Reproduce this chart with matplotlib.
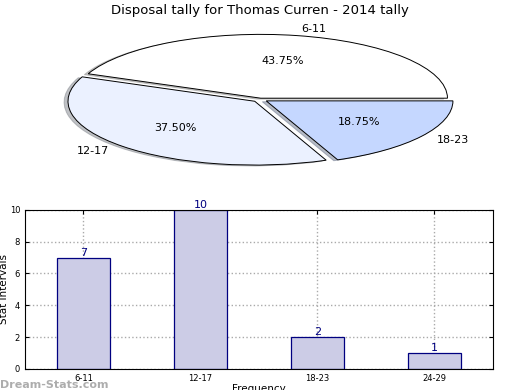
import matplotlib.pyplot as plt

# pie data
pie_labels = ["6-11", "12-17", "18-23"]
pie_counts = [7, 6, 3]
pie_colors = ["#ffffff", "#ebf1ff", "#c5d7ff"]

# bar data
bar_labels = ["6-11", "12-17", "18-23", "24-29"]
bar_counts = [7, 10, 2, 1]

fig = plt.figure(figsize=(5.2, 3.9), dpi=100)
fig.suptitle("Disposal tally for Thomas Curren - 2014 tally", fontsize=9.5, y=0.99)

ax1 = fig.add_axes([0.105, 0.565, 0.79, 0.36])
wedges, texts, autotexts = ax1.pie(pie_counts, labels=pie_labels, colors=pie_colors,
                                   explode=[0.02, 0.04, 0.04], autopct="%.2f%%",
                                   shadow={"ox": -0.015, "oy": -0.01, "shade": 0.45},
                                   startangle=0,
                                   wedgeprops={"edgecolor": "black", "linewidth": 0.7},
                                   textprops={"fontsize": 8})
ax1.set_aspect("auto")
ax1.set_xlim(-1.1, 1.1)
ax1.set_ylim(-1.1, 1.1)

ax2 = fig.add_axes([0.048, 0.054, 0.9, 0.408])
x = range(len(bar_labels))
bars = ax2.bar(x, bar_counts, width=0.45, color="#ccccE6", edgecolor="#000080", linewidth=0.9, zorder=2)
for xi, v in zip(x, bar_counts):
    ax2.text(xi, v, str(v), ha="center", va="bottom", color="#000080", fontsize=8)
ax2.set_xlim(-0.5, 3.5)
ax2.set_ylim(0, 10)
ax2.set_xticks(list(x))
ax2.set_xticklabels(bar_labels)
ax2.set_yticks([0, 2, 4, 6, 8, 10])
ax2.tick_params(labelsize=6, direction="in", right=True, top=True, length=3)
ax2.grid(True, linestyle=":", color="#aaaaaa", linewidth=1, zorder=0)
ax2.set_axisbelow(True)
ax2.set_ylabel("Stat Intervals", fontsize=7.5)
ax2.yaxis.set_label_coords(-0.034, 0.5)
ax2.set_xlabel("Frequency", fontsize=7.5, labelpad=1)

fig.text(0.0, 0.005, "Dream-Stats.com", color="#999999", fontsize=8, fontweight="bold", alpha=0.8)

fig.savefig("out.png")
